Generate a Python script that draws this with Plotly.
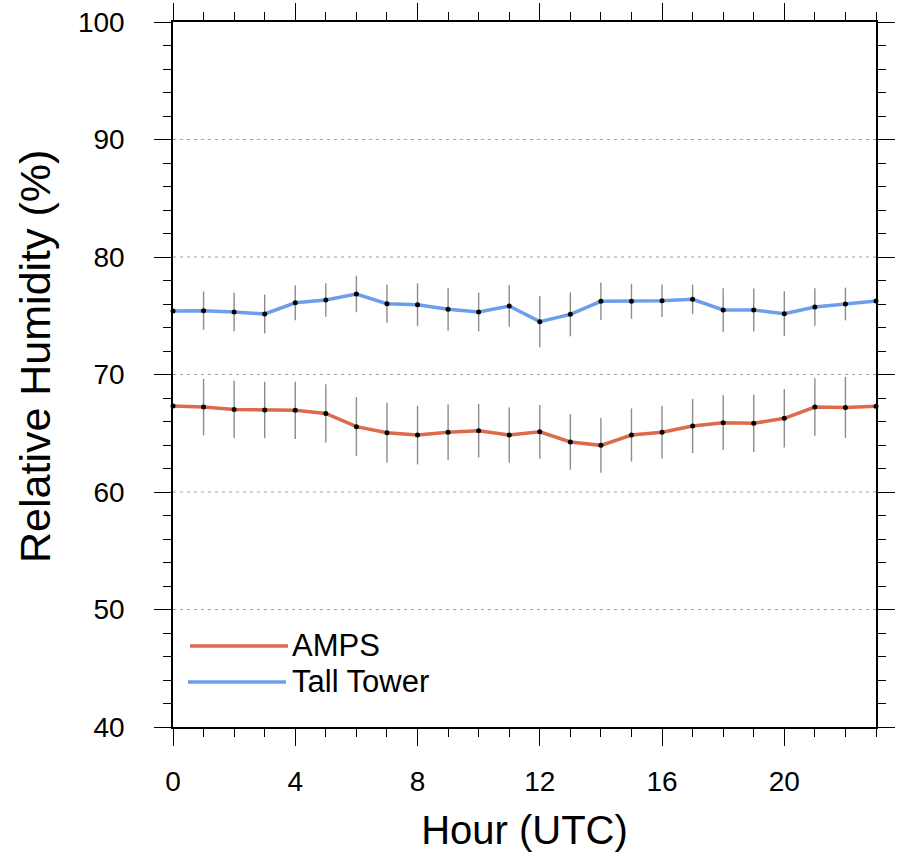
import plotly.graph_objects as go

hours = list(range(24))

amps_rh = [67.32, 67.23, 67.03, 66.98, 66.95, 66.69, 65.56, 65.05, 64.85, 65.08, 65.22, 64.85,
           65.12, 64.26, 63.97, 64.85, 65.08, 65.62, 65.90, 65.85, 66.27, 67.23, 67.20, 67.29]
amps_err = [0.0, 2.40, 2.43, 2.40, 2.44, 2.47, 2.51, 2.54, 2.50, 2.37, 2.28, 2.35,
            2.28, 2.37, 2.33, 2.26, 2.23, 2.31, 2.33, 2.44, 2.48, 2.45, 2.60, 0.0]

tower_rh = [75.40, 75.43, 75.32, 75.15, 76.10, 76.34, 76.85, 76.03, 75.94, 75.55, 75.32, 75.83,
            74.50, 75.12, 76.23, 76.23, 76.28, 76.40, 75.49, 75.49, 75.18, 75.74, 76.00, 76.26]
tower_err = [0.0, 1.63, 1.63, 1.66, 1.49, 1.42, 1.55, 1.62, 1.82, 1.82, 1.66, 1.76,
             2.18, 1.87, 1.59, 1.49, 1.38, 1.26, 1.86, 1.83, 1.91, 1.60, 1.39, 0.0]

series_names = ["AMPS", "Tall Tower"]
series_colors = ["#DE6A4C", "#6D9EEB"]

x_ticks = [0, 4, 8, 12, 16, 20]
y_ticks = [40, 50, 60, 70, 80, 90, 100]

FONT = "Liberation Sans, Arial, Helvetica, sans-serif"

fig = go.Figure()

for ys, errs, name, col in [(amps_rh, amps_err, series_names[0], series_colors[0]),
                            (tower_rh, tower_err, series_names[1], series_colors[1])]:
    fig.add_trace(go.Scatter(
        x=hours, y=ys, mode="markers", marker=dict(size=1, color="rgba(0,0,0,0)"),
        error_y=dict(type="data", array=errs, visible=True, color="#8c8c8c",
                     thickness=1.4, width=0),
        showlegend=False, hoverinfo="skip", cliponaxis=True))
    fig.add_trace(go.Scatter(
        x=hours, y=ys, mode="lines+markers", name=name,
        line=dict(color=col, width=3.5),
        marker=dict(color="black", size=5),
        showlegend=False, cliponaxis=False))

for v in y_ticks[1:-1]:
    fig.add_shape(type="line", xref="paper", x0=0, x1=1, yref="y", y0=v, y1=v,
                  line=dict(color="#a0a0a0", width=1, dash="3px,4px"), layer="below")

def px_x(p):
    return (p - 173) / 703.0

def px_y(p):
    return (727 - p) / 705.0

legend_rows = [(646, 190, 288), (682, 188, 286)]
for (yy, x0, x1), name, col in zip(legend_rows, series_names, series_colors):
    fig.add_shape(type="line", xref="paper", yref="paper",
                  x0=px_x(x0), x1=px_x(x1), y0=px_y(yy), y1=px_y(yy),
                  line=dict(color=col, width=3.5))
    fig.add_annotation(xref="paper", yref="paper", x=px_x(290), y=px_y(yy - 1),
                       text=name, showarrow=False, xanchor="left", yanchor="middle",
                       font=dict(family=FONT, size=31, color="black"))

# y-axis title as rotated annotation
fig.add_annotation(xref="paper", yref="paper", x=px_x(35), y=px_y(357),
                   text="Relative Humidity (%)", showarrow=False, textangle=-90,
                   xanchor="center", yanchor="middle",
                   font=dict(family=FONT, size=43, color="black"))

axis_common = dict(showline=True, linecolor="black", linewidth=1.5,
                   ticks="outside", tickcolor="black", tickwidth=1.3,
                   showgrid=False, zeroline=False, mirror="allticks", automargin=False)

fig.update_xaxes(range=[0, 23], tickvals=x_ticks, ticklen=17,
                 tickfont=dict(family=FONT, size=28, color="black"),
                 ticklabelstandoff=12,
                 minor=dict(dtick=1, tick0=0, ticks="outside", ticklen=8,
                            tickcolor="black", tickwidth=1, showgrid=False),
                 title=dict(text="Hour (UTC)", font=dict(family=FONT, size=40, color="black"),
                            standoff=20),
                 **axis_common)
fig.update_yaxes(range=[40, 100], tickvals=y_ticks, ticklen=17,
                 tickfont=dict(family=FONT, size=28, color="black"),
                 ticklabelstandoff=24,
                 minor=dict(dtick=2, tick0=40, ticks="outside", ticklen=8,
                            tickcolor="black", tickwidth=1, showgrid=False),
                 **axis_common)

fig.update_layout(
    width=905, height=859,
    margin=dict(l=173, r=29, t=22, b=132),
    plot_bgcolor="white", paper_bgcolor="white",
    showlegend=False,
)

fig.write_html("out.html")
